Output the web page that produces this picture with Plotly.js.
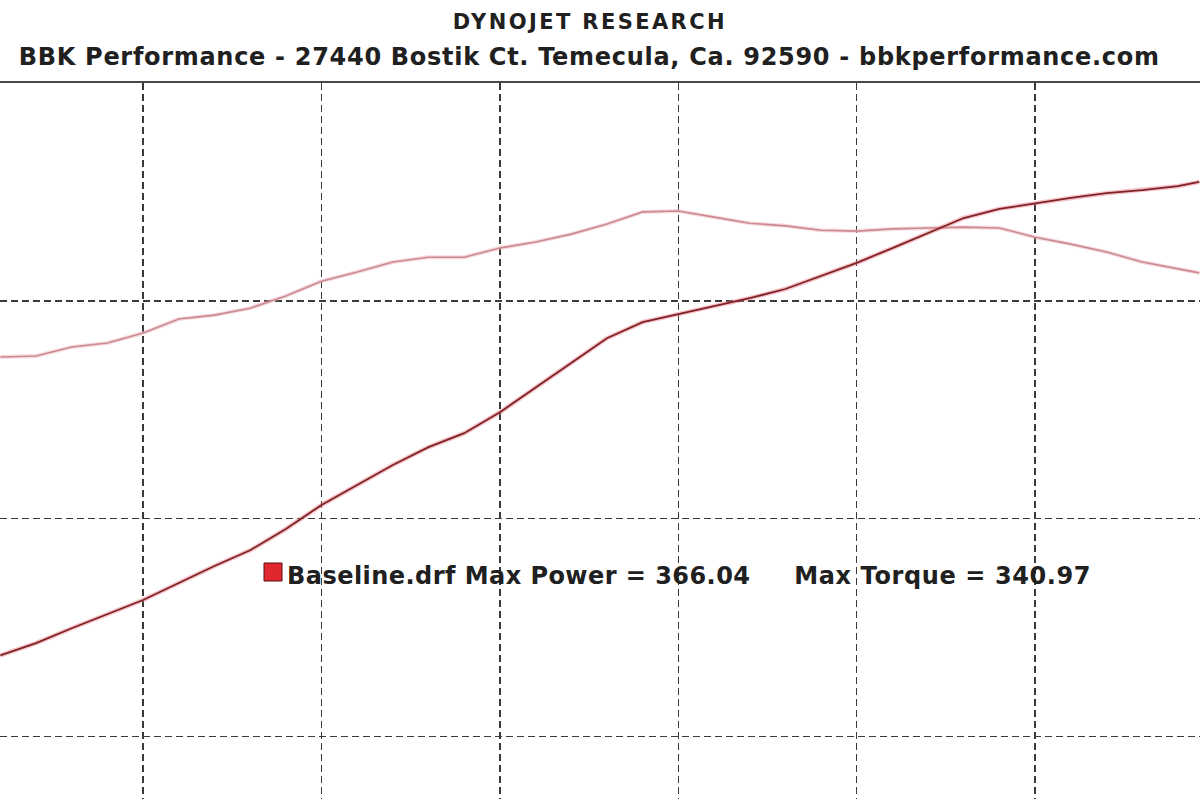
<!DOCTYPE html>
<html>
<head>
<meta charset="utf-8">
<script src="https://cdn.plot.ly/plotly-3.0.1.min.js"></script>
<style>
html,body{margin:0;padding:0;background:#fff;}
#chart{width:1200px;height:799px;}
#chart .annotation[data-index="0"] text{letter-spacing:2.4px;}
#chart .annotation[data-index="1"] text{letter-spacing:0.7px;}
#chart .annotation[data-index="2"] text{letter-spacing:0.45px;}
#chart .annotation[data-index="3"] text{letter-spacing:0.6px;}
</style>
</head>
<body>
<div id="chart"></div>
<script>
// Engine speed (RPM) samples
const rpm = [2600,2700,2800,2900,3000,3100,3200,3300,3400,3500,3600,3700,3800,3900,4000,4100,4200,4300,4400,4500,4600,4700,4800,4900,5000,5100,5200,5300,5400,5500,5600,5700,5800,5900,5960];
// Power curve (dark red)
const power = [268.6,271.4,274.8,278.0,281.3,285.2,289.1,292.7,297.6,303.1,307.7,312.3,316.4,319.6,324.4,330.0,335.7,341.4,345.1,346.9,348.8,350.6,352.7,355.7,358.7,362.1,365.5,369.0,371.1,372.4,373.6,374.7,375.4,376.3,377.3];
// Torque curve (pink)
const torque = [337.1,337.3,339.4,340.3,342.6,345.8,346.7,348.3,351.1,354.5,356.6,358.9,360.0,360.0,362.1,363.5,365.3,367.6,370.4,370.6,369.2,367.8,367.2,366.2,366.0,366.5,366.7,366.9,366.7,364.6,363.0,361.2,358.9,357.3,356.4];
// Grid positions
const xGrid = [3000,3500,4000,4500,5000,5500];
const yGrid = [250,300,350];

const titleText = "DYNOJET RESEARCH";
const subtitleText = "BBK Performance - 27440 Bostik Ct. Temecula, Ca. 92590 - bbkperformance.com";
const legendPower = "Baseline.drf Max Power = 366.04";
const legendTorque = "Max Torque = 340.97";

const traces = [
  {x: rpm, y: torque, mode:'lines', line:{color:'rgba(240,170,180,0.45)', width:4}, hoverinfo:'skip', showlegend:false},
  {x: rpm, y: torque, mode:'lines', line:{color:'#c98a92', width:1.6}, name:'Torque', showlegend:false},
  {x: rpm, y: power, mode:'lines', line:{color:'rgba(235,120,130,0.45)', width:4.5}, hoverinfo:'skip', showlegend:false},
  {x: rpm, y: power, mode:'lines', line:{color:'#7d2327', width:1.8}, name:'Power', showlegend:false}
];

const font = "DejaVu Sans, Verdana, sans-serif";
const txt = '#202020';

const layout = {
  width:1200, height:799,
  margin:{l:0, r:0, t:83, b:0, pad:0},
  paper_bgcolor:'#ffffff', plot_bgcolor:'#ffffff',
  showlegend:false,
  xaxis:{
    range:[2599, 5962], side:'top',
    tickvals:xGrid, showticklabels:false, ticks:'',
    showgrid:true, griddash:'7px,4px', gridcolor:'#3a3a3a', gridwidth:1.5,
    zeroline:false, showline:true, linecolor:'#4a4a4a', linewidth:2
  },
  yaxis:{
    range:[235.6, 400],
    tickvals:yGrid, showticklabels:false, ticks:'',
    showgrid:true, griddash:'7px,4px', gridcolor:'#3a3a3a', gridwidth:1.5,
    zeroline:false, showline:false
  },
  annotations:[
    {text:titleText, xref:'paper', yref:'paper', x:589.5/1200, y:1, yshift:61, xanchor:'center', yanchor:'middle', showarrow:false, font:{family:font, size:21, weight:'bold', color:txt}},
    {text:subtitleText, xref:'paper', yref:'paper', x:588.5/1200, y:1, yshift:26, xanchor:'center', yanchor:'middle', showarrow:false, font:{family:font, size:24, weight:'bold', color:txt}},
    {text:legendPower, xref:'paper', yref:'paper', x:519/1200, y:(799-576)/716, xanchor:'center', yanchor:'middle', showarrow:false, font:{family:font, size:24, weight:'bold', color:txt}},
    {text:legendTorque, xref:'paper', yref:'paper', x:942.5/1200, y:(799-576)/716, xanchor:'center', yanchor:'middle', showarrow:false, font:{family:font, size:24, weight:'bold', color:txt}}
  ],
  shapes:[
    {type:'rect', xref:'paper', yref:'paper', x0:264/1200, x1:282/1200, y0:(799-581)/716, y1:(799-563)/716, fillcolor:'#e0262e', line:{color:'#5a1010', width:1}}
  ]
};

Plotly.newPlot('chart', traces, layout, {displayModeBar:false, staticPlot:true});
</script>
</body>
</html>
